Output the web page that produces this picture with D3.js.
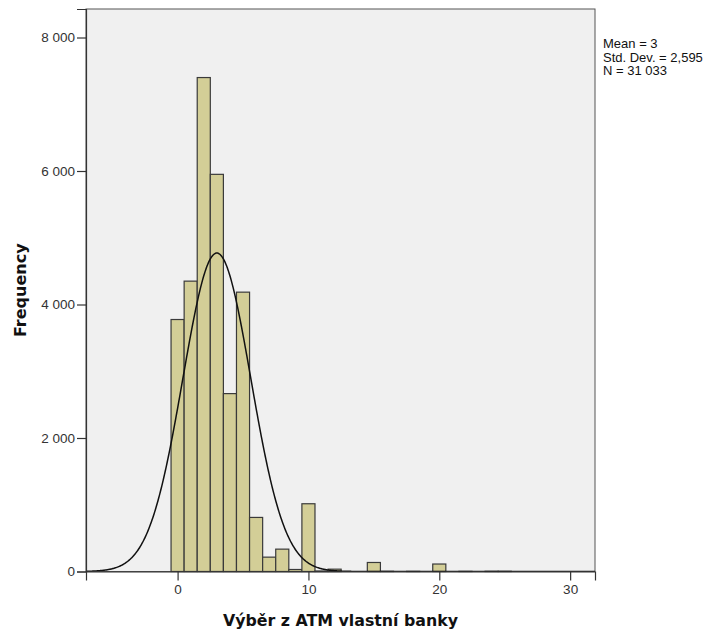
<!DOCTYPE html>
<html>
<head>
<meta charset="utf-8">
<script src="https://cdn.jsdelivr.net/npm/d3@7"></script>
<style>
  html, body { margin: 0; padding: 0; background: #fff; }
  svg { display: block; }
</style>
</head>
<body>
<svg id="chart" width="712" height="635"></svg>
<script>
// ---- Data ----
const binCenters = [0,1,2,3,4,5,6,7,8,9,10,11,12,13,14,15,16,17,18,19,20,21,22,23,24,25];
const frequencies = [3775,4350,7400,5950,2665,4185,810,215,335,30,1015,8,35,0,0,135,3,0,2,0,112,0,2,0,3,3];
const xTicks = [0, 10, 20, 30];
const yTicks = [0, 2000, 4000, 6000, 8000];
const statLabels = ["Mean = 3", "Std. Dev. = 2,595", "N = 31 033"];
const meanValue = 3;
const sdValue = 2.595;
const nValue = 31033;
const binWidth = 1;
const xTitle = "Výběr z ATM vlastní banky";
const yTitle = "Frequency";

// ---- Layout ----
const svg = d3.select("#chart");
const L = 86, R = 595, T = 9, B = 571.5;

const x = d3.scaleLinear().domain([-7, 31.9]).range([L, R]);
const y = d3.scaleLinear().domain([0, 8427]).range([B, T]);

// plot background
svg.append("rect")
  .attr("x", L).attr("y", T)
  .attr("width", R - L).attr("height", B - T)
  .attr("fill", "#f0f0f0")
  .attr("stroke", "#555").attr("stroke-width", 1);

svg.append("clipPath").attr("id", "clipPlot")
  .append("rect").attr("x", L).attr("y", T).attr("width", R - L).attr("height", B - T);

// bars
const bars = binCenters.map((c, i) => ({ c, f: frequencies[i] })).filter(d => d.f > 0);
svg.append("g").selectAll("rect").data(bars).join("rect")
  .attr("x", d => x(d.c - binWidth / 2))
  .attr("width", d => x(d.c + binWidth / 2) - x(d.c - binWidth / 2))
  .attr("y", d => y(d.f))
  .attr("height", d => B - y(d.f))
  .attr("fill", "#d3ce97")
  .attr("stroke", "#3a3a3a")
  .attr("stroke-width", 1.2);

// normal curve from the stated mean / std. dev. / N
const pts = d3.range(-7, 31.91, 0.05).map(v => {
  const z = (v - meanValue) / sdValue;
  return [v, nValue * binWidth / (sdValue * Math.sqrt(2 * Math.PI)) * Math.exp(-0.5 * z * z)];
});
svg.append("path")
  .datum(pts)
  .attr("clip-path", "url(#clipPlot)")
  .attr("fill", "none")
  .attr("stroke", "#111")
  .attr("stroke-width", 1.5)
  .attr("d", d3.line().x(d => x(d[0])).y(d => y(d[1])));

// axes
const yAxis = d3.axisLeft(y).tickValues(yTicks).tickSize(9).tickPadding(2)
  .tickFormat(d => d3.format(",")(d).replace(/,/g, " "));
const gy = svg.append("g").attr("transform", `translate(${L},0)`).call(yAxis);
gy.select(".domain").attr("stroke", "#333").attr("stroke-width", 1.2);
gy.selectAll(".tick line").attr("stroke", "#333").attr("stroke-width", 1.2);
gy.selectAll("text").attr("font-family", "Liberation Sans, Arial, sans-serif")
  .attr("font-size", 13.5).attr("fill", "#333");

const xAxis = d3.axisBottom(x).tickValues(xTicks).tickSize(9).tickPadding(4);
const gx = svg.append("g").attr("transform", `translate(0,${B})`).call(xAxis);
gx.select(".domain").attr("stroke", "#333").attr("stroke-width", 1.2);
gx.selectAll(".tick line").attr("stroke", "#333").attr("stroke-width", 1.2);
gx.selectAll("text").attr("font-family", "Liberation Sans, Arial, sans-serif")
  .attr("font-size", 13.5).attr("fill", "#333");

// axis titles
svg.append("text")
  .attr("x", (L + R) / 2).attr("y", 626)
  .attr("text-anchor", "middle")
  .attr("font-family", "DejaVu Sans, sans-serif")
  .attr("font-weight", "bold").attr("font-size", 15.8)
  .attr("fill", "#111")
  .text(xTitle);

svg.append("text")
  .attr("transform", `translate(26,${(T + B) / 2}) rotate(-90)`)
  .attr("text-anchor", "middle")
  .attr("font-family", "DejaVu Sans, sans-serif")
  .attr("font-weight", "bold").attr("font-size", 16)
  .attr("fill", "#111")
  .text(yTitle);

// stats legend
svg.append("g").selectAll("text").data(statLabels).join("text")
  .attr("x", 603)
  .attr("y", (d, i) => 48 + i * 13.5)
  .attr("font-family", "Liberation Sans, Arial, sans-serif")
  .attr("font-size", 13)
  .attr("fill", "#111")
  .text(d => d);
</script>
</body>
</html>
